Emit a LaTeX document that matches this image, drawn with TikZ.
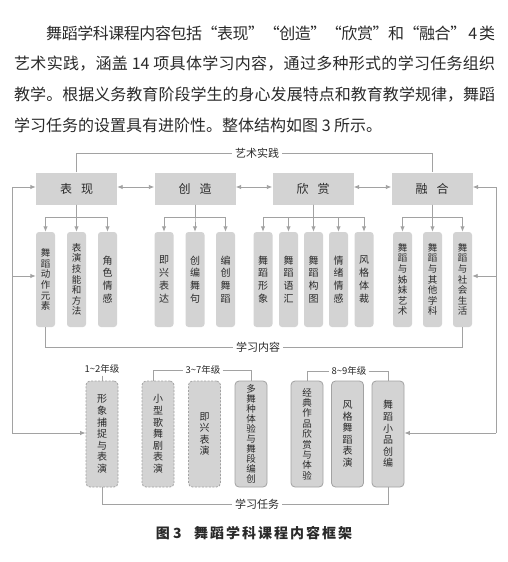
\documentclass[tikz,border=0pt]{standalone}
\usepackage{fontspec}
\setmainfont{Noto Sans CJK SC}
\usetikzlibrary{arrows.meta,backgrounds}
\definecolor{boxgray}{HTML}{D3D3D3}
\definecolor{linegray}{HTML}{A2A2A2}
\definecolor{txt}{HTML}{2A2A2A}
\makeatletter
\newcommand\spreadline[2]{\makebox[#1][s]{\@tfor\sp@c:=#2\do{\sp@c\hskip 0pt plus 1fil minus 0.5pt}\unskip}}
\makeatother
\tikzset{
  topbox/.style={fill=boxgray, minimum width=81pt, minimum height=32pt, inner sep=0pt, text=txt, font=\fontsize{12}{12}\selectfont},
  cbox/.style={fill=boxgray, rounded corners=3pt, minimum width=19pt, minimum height=95pt, inner sep=0pt, align=center, text=txt, font=\fontsize{9.5}{10.6}\selectfont},
  cboxw/.style={cbox, font=\fontsize{10}{12.8}\selectfont},
  tbox/.style={fill=boxgray, rounded corners=4pt, draw=linegray, line width=0.8pt, minimum width=32pt, minimum height=106pt, inner sep=0pt, align=center, text=txt, font=\fontsize{10}{11.6}\selectfont},
  tdash/.style={tbox, dash pattern=on 2pt off 1.5pt},
  conn/.style={draw=linegray, line width=0.9pt},
  arr/.style={conn, -{Latex[length=5.5pt,width=4.5pt]}},
  darr/.style={conn, {Latex[length=5.5pt,width=4.5pt]}-{Latex[length=5.5pt,width=4.5pt]}},
  lbl/.style={inner sep=3pt, text=txt, font=\fontsize{11}{11}\selectfont},
  glbl/.style={inner sep=2pt, text=txt, font=\fontsize{9.5}{10}\selectfont},
  para/.style={anchor=west, inner sep=0pt, text=txt, font=\fontsize{16}{16}\selectfont},
}
\begin{document}
\begin{tikzpicture}[x=1pt,y=-1pt]
\useasboundingbox[fill=white] (0,0) rectangle (508,562);

% paragraph
\node[para] (p1) at (46,33) {\spreadline{449pt}{舞蹈学科课程内容包括“表现”“创造”“欣赏”和“融合”{ 4 }类}};
\node[para] (p2) at (14,64) {\spreadline{481pt}{艺术实践，涵盖{ 14 }项具体学习内容，通过多种形式的学习任务组织}};
\node[para] (p3) at (14,95) {\spreadline{481pt}{教学。根据义务教育阶段学生的身心发展特点和教育教学规律，舞蹈}};
\node[para] (p4) at (14,125) {学习任务的设置具有进阶性。整体结构如图 3 所示。};

% top boxes
\node[topbox] (b1) at (76.5,188.5) {表\hspace{0.75em}现};
\node[topbox] (b2) at (195,188.5) {创\hspace{0.75em}造};
\node[topbox] (b3) at (313,188.5) {欣\hspace{0.75em}赏};
\node[topbox] (b4) at (432,188.5) {融\hspace{0.75em}合};

% content boxes
\node[cbox] (c1) at (45.5,279.5) {舞\\蹈\\动\\作\\元\\素};
\node[cbox] (c2) at (76.5,279.5) {表\\演\\技\\能\\和\\方\\法};
\node[cboxw] (c3) at (107.5,279.5) {角\\色\\情\\感};
\node[cboxw] (c4) at (164,279.5) {即\\兴\\表\\达};
\node[cboxw] (c5) at (195,279.5) {创\\编\\舞\\句};
\node[cboxw] (c6) at (225.5,279.5) {编\\创\\舞\\蹈};
\node[cboxw] (c7) at (263,279.5) {舞\\蹈\\形\\象};
\node[cboxw] (c8) at (288.5,279.5) {舞\\蹈\\语\\汇};
\node[cboxw] (c9) at (313.5,279.5) {舞\\蹈\\构\\图};
\node[cboxw] (c10) at (338.5,279.5) {情\\绪\\情\\感};
\node[cboxw] (c11) at (364,279.5) {风\\格\\体\\裁};
\node[cbox] (c12) at (402.5,279.5) {舞\\蹈\\与\\姊\\妹\\艺\\术};
\node[cbox] (c13) at (432.5,279.5) {舞\\蹈\\与\\其\\他\\学\\科};
\node[cbox] (c14) at (462.5,279.5) {舞\\蹈\\与\\社\\会\\生\\活};

% task boxes
\node[tdash] (t1) at (102,434) {形\\象\\捕\\捉\\与\\表\\演};
\node[tdash] (t2) at (158,434) {小\\型\\歌\\舞\\剧\\表\\演};
\node[tdash] (t3) at (204.5,434) {即\\兴\\表\\演};
\node[tbox, font=\fontsize{9.5}{10}\selectfont] (t4) at (251,434) {多\\舞\\种\\体\\验\\与\\舞\\段\\编\\创};
\node[tbox, font=\fontsize{9.5}{10.4}\selectfont] (t5) at (307,434) {经\\典\\作\\品\\欣\\赏\\与\\体\\验};
\node[tbox] (t6) at (347.5,434) {风\\格\\舞\\蹈\\表\\演};
\node[tbox] (t7) at (388,434) {舞\\蹈\\小\\品\\创\\编};

% labels
\node[lbl] (art) at (257,153) {艺术实践};
\node[lbl] (lc) at (258,347) {学习内容};
\node[lbl] (lt) at (257,504) {学习任务};
\node[glbl] (g1) at (102,369) {1\textasciitilde 2年级};
\node[glbl] (g2) at (203,370) {3\textasciitilde 7年级};
\node[glbl] (g3) at (349,371) {8\textasciitilde 9年级};

% outer coordinates
\coordinate (Lt) at (12,187);
\coordinate (Lc) at (12,276);
\coordinate (Lb) at (12,433);
\coordinate (Rt) at (496,187);
\coordinate (Rc) at (496,276);
\coordinate (Rb) at (496,433);

\begin{scope}[on background layer]
  \draw[conn] (Lc -| c1.west) -- (Rc -| c14.east);
  \draw[conn] (Lb -| t1.west) -- (Rb -| t7.east);
\end{scope}

% outer lines
\draw[conn] (Lt) -- (Lb);
\draw[conn] (Rt) -- (Rb);
\draw[arr] (Lt) -- (Lt -| b1.west);
\draw[arr] (Lc) -- (Lc -| c1.west);
\draw[arr] (Lb) -- (Lb -| t1.west);
\draw[arr] (Rt) -- (Rt -| b4.east);
\draw[arr] (Rc) -- (Rc -| c14.east);
\draw[arr] (Rb) -- (Rb -| t7.east);

% double arrows
\draw[darr] (b1.east |- Lt) -- (b2.west |- Lt);
\draw[darr] (b2.east |- Lt) -- (b3.west |- Lt);
\draw[darr] (b3.east |- Lt) -- (b4.west |- Lt);

% trees
\foreach \c in {c1,c2,c3} \draw[arr] (b1.south) -- ++(0,12.5) -| (\c.north);
\foreach \c in {c4,c5,c6} \draw[arr] (b2.south) -- ++(0,12.5) -| (\c.north);
\foreach \c in {c7,c8,c9,c10,c11} \draw[arr] (b3.south) -- ++(0,12.5) -| (\c.north);
\foreach \c in {c12,c13,c14} \draw[arr] (b4.south) -- ++(0,12.5) -| (\c.north);

% brackets
\draw[conn] (b1.north) |- (art.west);
\draw[conn] (art.east) -| (b4.north);
\draw[conn] (c1.south) |- (lc.west);
\draw[conn] (lc.east) -| (c14.south);
\draw[conn] (g1.south) -- (t1.north);
\draw[conn] ([xshift=-5pt]t2.north) |- (g2.west);
\draw[conn] (g2.east) -| (t4.north);
\draw[conn] (t5.north) |- (g3.west);
\draw[conn] (g3.east) -| (t7.north);
\draw[conn] (t1.south) |- (lt.west);
\draw[conn] (lt.east) -| (t7.south);

% caption
\node[text=txt, font=\fontsize{14}{14}\selectfont\bfseries] (cap) at (254,533) {图 3\hspace{0.9em}\spreadline{158pt}{舞蹈学科课程内容框架}};
\end{tikzpicture}
\end{document}
